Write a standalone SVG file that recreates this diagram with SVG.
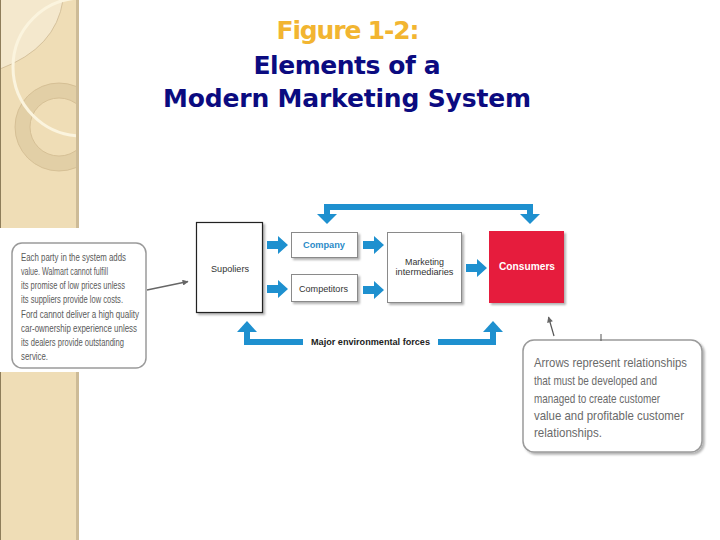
<svg xmlns="http://www.w3.org/2000/svg" xmlns:xlink="http://www.w3.org/1999/xlink" width="720" height="540" viewBox="0 0 720 540">
  <style>
    .title { font-family: "DejaVu Sans", Verdana, sans-serif; font-weight: bold; font-size: 25px; text-anchor: middle; }
    .box { fill: #ffffff; stroke: #8a8a8a; stroke-width: 1; }
    .lbl { font-family: "Liberation Sans", Arial, sans-serif; font-size: 9px; fill: #333; text-anchor: middle; }
    .note { font-family: "Liberation Sans", Arial, sans-serif; fill: #5a5a5a; }
    .blue { fill: #1E90CF; }
    .bline { fill: none; stroke: #1E90CF; stroke-width: 6; }
    .callout { fill: #ffffff; stroke: #9a9a9a; stroke-width: 1.5; }
  </style>
  <defs>
    <path id="arr" d="M0,-4 H11 V-9 L21,0 L11,9 V4 H0 Z"/>
    <clipPath id="sideClip"><rect x="0" y="0" width="76" height="228"/></clipPath>
    <filter id="sh" x="-20%" y="-20%" width="150%" height="150%">
      <feDropShadow dx="2" dy="2" stdDeviation="1.2" flood-color="#000" flood-opacity="0.3"/>
    </filter>
    <marker id="gh" viewBox="0 0 10 10" refX="9" refY="5" markerWidth="7" markerHeight="6" orient="auto" markerUnits="userSpaceOnUse">
      <path d="M0,0 L10,5 L0,10 Z" fill="#666"/>
    </marker>
  </defs>

  <rect x="0" y="0" width="720" height="540" fill="#ffffff"/>

  <!-- sidebar -->
  <g id="sidebar">
    <rect x="0" y="0" width="79" height="228" fill="#EFDDB6"/>
    <rect x="0" y="372" width="79" height="168" fill="#EFDDB6"/>
    <g clip-path="url(#sideClip)">
      <path d="M0,0 H63 Q56,48 0,69 Z" fill="#F4E8CD"/>
      <path d="M63,0 Q56,48 0,69" fill="none" stroke="#C8B38C" stroke-width="0.7"/>
      <circle cx="59" cy="127" r="36.5" fill="none" stroke="#E2CFA6" stroke-width="15"/>
      <circle cx="59" cy="127" r="44" fill="none" stroke="#D0BA8F" stroke-width="0.8"/>
      <circle cx="59" cy="127" r="29" fill="none" stroke="#D0BA8F" stroke-width="0.8"/>
      <circle cx="82" cy="67" r="69" fill="none" stroke="#FBF4DE" stroke-width="3"/>
    </g>
    <rect x="76" y="0" width="3" height="228" fill="#CDBB97"/>
    <rect x="76" y="372" width="3" height="168" fill="#CDBB97"/>
    <rect x="0" y="0" width="1" height="228" fill="#8E7D5A"/>
    <rect x="0" y="372" width="1" height="168" fill="#8E7D5A"/>
  </g>

  <!-- title -->
  <g id="title">
    <text class="title" x="348" y="39" fill="#F2B531" textLength="143">Figure 1-2:</text>
    <text class="title" x="347" y="74" fill="#0B0B80" textLength="187">Elements of a</text>
    <text class="title" x="347" y="107" fill="#0B0B80" textLength="368">Modern Marketing System</text>
  </g>

  <!-- connectors -->
  <g id="connectors">
    <use xlink:href="#arr" href="#arr" class="blue" transform="translate(267,245)"/>
    <use xlink:href="#arr" href="#arr" class="blue" transform="translate(267,289)"/>
    <use xlink:href="#arr" href="#arr" class="blue" transform="translate(363,245)"/>
    <use xlink:href="#arr" href="#arr" class="blue" transform="translate(363,290)"/>
    <use xlink:href="#arr" href="#arr" class="blue" transform="translate(466,268)"/>
    <!-- top feedback -->
    <path class="bline" d="M327,216 V207 H530 V216"/>
    <path class="blue" d="M317,214 L337,214 L327,224 Z"/>
    <path class="blue" d="M520,214 L540,214 L530,224 Z"/>
    <!-- environmental forces -->
    <path class="bline" d="M303,342 H247 V330" stroke-width="5.5"/>
    <path class="blue" d="M237,332 L257,332 L247,321 Z"/>
    <path class="bline" d="M438,342 H493 V330" stroke-width="5.5"/>
    <path class="blue" d="M483,332 L503,332 L493,321 Z"/>
    <!-- callout pointers -->
    <line x1="147" y1="290" x2="188" y2="281.5" stroke="#666" stroke-width="1.4" marker-end="url(#gh)"/>
    <line x1="554" y1="336" x2="548.5" y2="317" stroke="#555" stroke-width="1.2" marker-end="url(#gh)"/>
  </g>

  <g id="suppliers">
    <rect x="196.5" y="222.5" width="66" height="90" fill="#fff" stroke="#222" stroke-width="1.2" filter="url(#sh)"/>
    <text class="lbl" x="230" y="272" textLength="38" lengthAdjust="spacingAndGlyphs">Supoliers</text>
  </g>
  <g id="company">
    <rect class="box" x="291.5" y="232.5" width="66" height="25" filter="url(#sh)"/>
    <text class="lbl" x="324" y="248" style="fill:#2A8BC8;font-weight:bold" textLength="42" lengthAdjust="spacingAndGlyphs">Company</text>
  </g>
  <g id="competitors">
    <rect class="box" x="291.5" y="274.5" width="66" height="27" filter="url(#sh)"/>
    <text class="lbl" x="323.5" y="292" textLength="49" lengthAdjust="spacingAndGlyphs">Competitors</text>
  </g>
  <g id="intermediaries">
    <rect class="box" x="387.5" y="232.5" width="74" height="70" filter="url(#sh)"/>
    <text class="lbl" x="424.5" y="265" textLength="39" lengthAdjust="spacingAndGlyphs">Marketing</text>
    <text class="lbl" x="424.5" y="275" textLength="58" lengthAdjust="spacingAndGlyphs">intermediaries</text>
  </g>
  <g id="consumers">
    <rect x="489" y="231" width="75" height="72" fill="#E61E3C" filter="url(#sh)"/>
    <text class="lbl" x="527" y="270" style="fill:#fff;font-weight:bold;font-size:10px" textLength="56" lengthAdjust="spacingAndGlyphs">Consumers</text>
  </g>
  <g id="environment">
    <text x="370.5" y="344.5" font-family="Liberation Sans, Arial, sans-serif" font-size="8.5" font-weight="bold" fill="#222" text-anchor="middle" textLength="119" lengthAdjust="spacingAndGlyphs">Major environmental forces</text>
  </g>

  <g id="note-left">
    <rect class="callout" x="12" y="243" width="134" height="125" rx="10"/>
    <g class="note" font-size="11.5">
      <text x="21" y="261" textLength="105" lengthAdjust="spacingAndGlyphs">Each party in the system adds</text>
      <text x="21" y="275" textLength="87" lengthAdjust="spacingAndGlyphs">value. Walmart cannot fulfill</text>
      <text x="21" y="289" textLength="104" lengthAdjust="spacingAndGlyphs">its promise of low prices unless</text>
      <text x="21" y="303" textLength="102" lengthAdjust="spacingAndGlyphs">its suppliers provide low costs.</text>
      <text x="21" y="318" textLength="118" lengthAdjust="spacingAndGlyphs">Ford cannot deliver a high quality</text>
      <text x="21" y="332" textLength="116" lengthAdjust="spacingAndGlyphs">car-ownership experience unless</text>
      <text x="21" y="346" textLength="103" lengthAdjust="spacingAndGlyphs">its dealers provide outstanding</text>
      <text x="21" y="360" textLength="27" lengthAdjust="spacingAndGlyphs">service.</text>
    </g>
  </g>

  <g id="note-right">
    <rect class="callout" x="523" y="340" width="179" height="112" rx="11" filter="url(#sh)"/>
    <line x1="601" y1="334" x2="601" y2="341" stroke="#555" stroke-width="1"/>
    <g class="note" font-size="13.5" style="fill:#6a6a6a">
      <text x="534" y="367" textLength="153" lengthAdjust="spacingAndGlyphs">Arrows represent relationships</text>
      <text x="534" y="385" textLength="123" lengthAdjust="spacingAndGlyphs">that must be developed and</text>
      <text x="534" y="403" textLength="126" lengthAdjust="spacingAndGlyphs">managed to create customer</text>
      <text x="534" y="420" textLength="150" lengthAdjust="spacingAndGlyphs">value and profitable customer</text>
      <text x="534" y="437" textLength="68" lengthAdjust="spacingAndGlyphs">relationships.</text>
    </g>
  </g>
</svg>
